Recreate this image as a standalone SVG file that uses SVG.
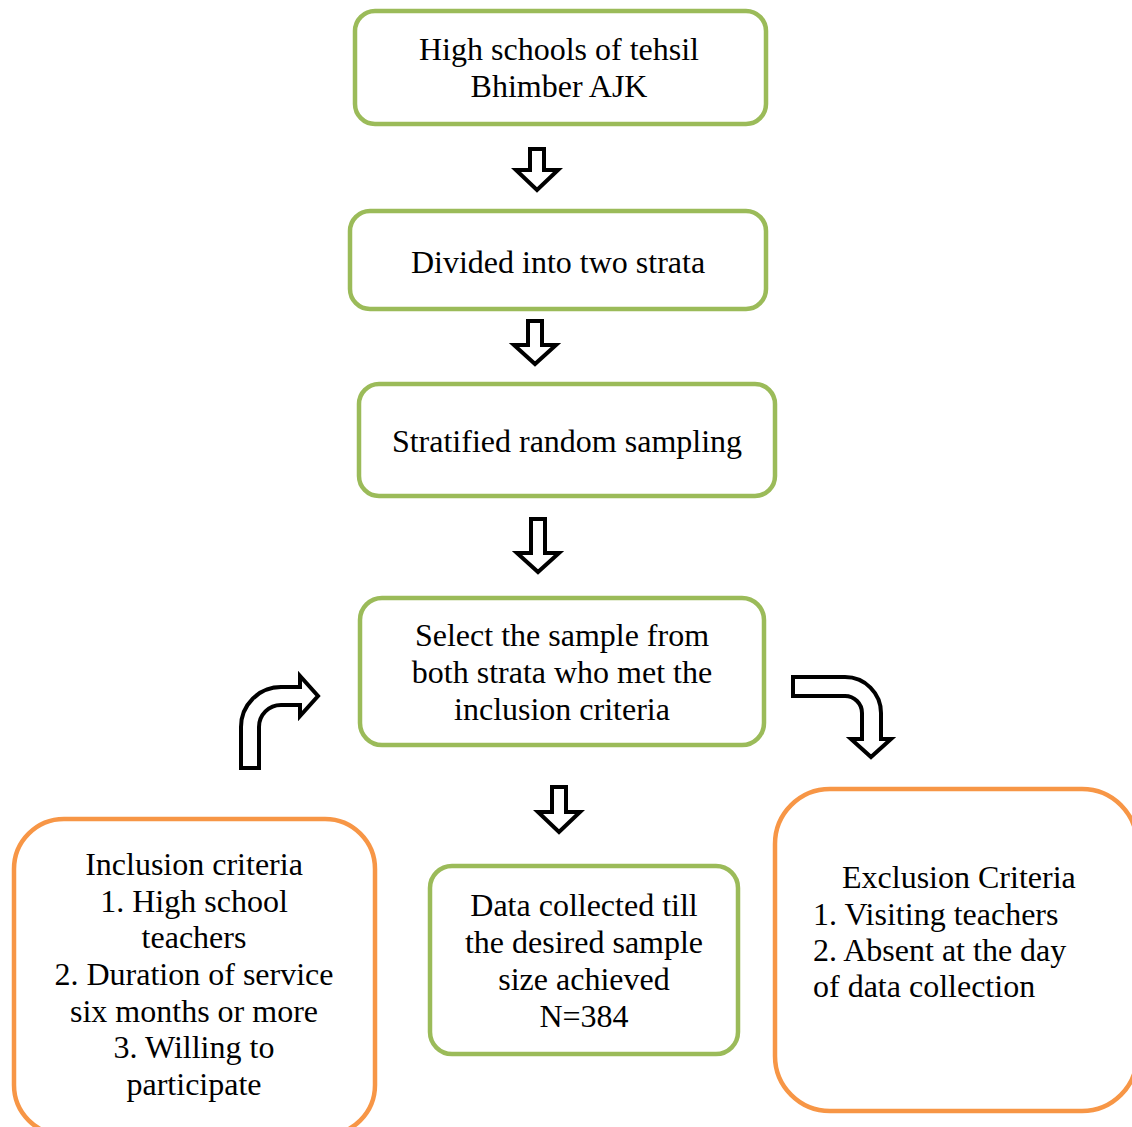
<svg xmlns="http://www.w3.org/2000/svg" width="1132" height="1127" viewBox="0 0 1132 1127">
<style>
.g{fill:#fff;stroke:#9BBB59;stroke-width:4.5}
.o{fill:#fff;stroke:#F79646;stroke-width:4.5}
.a{fill:#fff;stroke:#000;stroke-width:4;stroke-linejoin:miter}
text{font-family:"Liberation Serif","Times New Roman",serif;font-size:32px;fill:#000}
.c{text-anchor:middle}
</style>
<rect width="1132" height="1127" fill="#fff"/>
<g id="n1"><rect class="g" x="355" y="11" width="411" height="113" rx="20"/>
<text class="c" x="559" y="60">High schools of tehsil</text>
<text class="c" x="559" y="97">Bhimber AJK</text></g>
<g id="n2"><rect class="g" x="350" y="211" width="416" height="98" rx="20"/>
<text class="c" x="558" y="273">Divided into two strata</text></g>
<g id="n3"><rect class="g" x="359" y="384" width="416" height="112" rx="20"/>
<text class="c" x="567" y="452">Stratified random sampling</text></g>
<g id="n4"><rect class="g" x="360" y="598" width="404" height="147" rx="22"/>
<text class="c" x="562" y="646">Select the sample from</text>
<text class="c" x="562" y="683">both strata who met the</text>
<text class="c" x="562" y="720">inclusion criteria</text></g>
<g id="n5"><rect class="g" x="430" y="866" width="308" height="188" rx="22"/>
<text class="c" x="584" y="916">Data collected till</text>
<text class="c" x="584" y="953">the desired sample</text>
<text class="c" x="584" y="990">size achieved</text>
<text class="c" x="584" y="1027">N=384</text></g>
<g id="inclusion"><rect class="o" x="14" y="819" width="361" height="316" rx="50"/>
<text class="c" x="194" y="875">Inclusion criteria</text>
<text class="c" x="194" y="912">1. High school</text>
<text class="c" x="194" y="948">teachers</text>
<text class="c" x="194" y="985">2. Duration of service</text>
<text class="c" x="194" y="1022">six months or more</text>
<text class="c" x="194" y="1058">3. Willing to</text>
<text class="c" x="194" y="1095">participate</text></g>
<g id="exclusion"><rect class="o" x="775" y="789" width="362" height="322" rx="55"/>
<text x="842" y="888">Exclusion Criteria</text>
<text x="813" y="925">1. Visiting teachers</text>
<text x="813" y="961">2. Absent at the day</text>
<text x="813" y="997">of data collection</text></g>
<g id="connectors">
<path class="a" d="M530 149H544V170H558L537 190L516 170H530Z"/>
<path class="a" d="M528 321H542V345H556L535 364L514 345H528Z"/>
<path class="a" d="M531 519H545V553H559L538 572L517 553H531Z"/>
<path class="a" d="M552 787H566V812H580L559 832L538 812H552Z"/>
<path class="a" d="M241 768V727A40 40 0 0 1 281 687H300V676L318 696L300 716V705H281A22 22 0 0 0 259 727V768Z"/>
<path class="a" d="M793 677H845A36 36 0 0 1 881 713V739H891L871 757L851 739H862V713A17 17 0 0 0 845 696H793Z"/>
</g>
</svg>
